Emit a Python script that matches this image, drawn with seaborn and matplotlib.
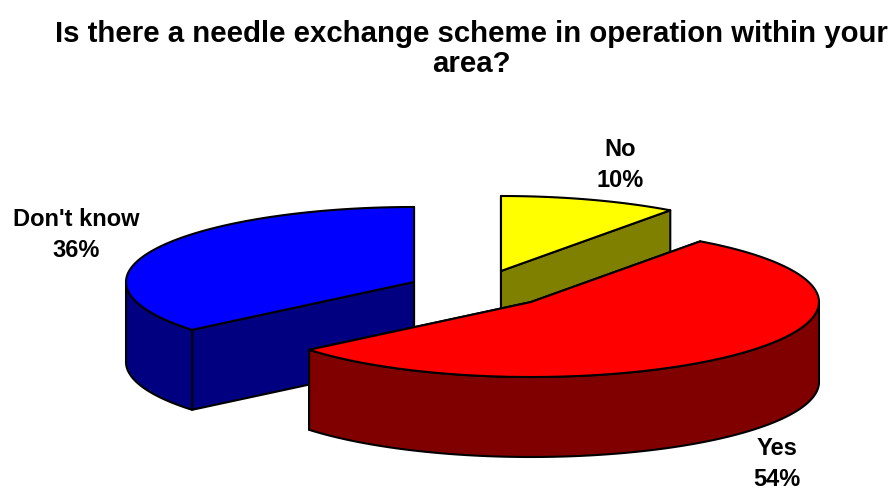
import numpy as np
import matplotlib
matplotlib.use("Agg")
import matplotlib.pyplot as plt
from matplotlib.patches import Polygon
import seaborn as sns

title = "Is there a needle exchange scheme in operation within your\narea?"
categories = ["No", "Yes", "Don't know"]
values = [10, 54, 36]

sns.set_style("white")
plt.rcParams['font.family'] = ['Liberation Sans', 'DejaVu Sans']
top_colors = sns.color_palette(["#FFFF00", "#FF0000", "#0000FF"])
side_colors = sns.color_palette(["#808000", "#800000", "#000080"])

# layout (pixel space of the figure)
W, H = 893, 489
A, B, DEPTH = 288, 75, 80
centers = [(501, 272), (531, 303), (414, 283)]
label_pos = [(620, 165), (777, 464), (76, 235)]
draw_order = [0, 2, 1]

fig = plt.figure(figsize=(W / 100, H / 100), dpi=100)
ax = fig.add_axes([0, 0, 1, 1])
ax.set_xlim(0, W)
ax.set_ylim(H, 0)
ax.axis("off")

shares = np.array(values, dtype=float) / sum(values)
ends = 90 - 360 * np.cumsum(shares)
starts = ends + 360 * shares
EDGE = dict(edgecolor="black", linewidth=1.5, joinstyle="round")

for i in draw_order:
    cx, cy = centers[i]
    t = np.radians(np.linspace(starts[i], ends[i], 200))
    x = cx + A * np.cos(t)
    y = cy - B * np.sin(t)
    # radial faces
    for k in (0, -1):
        ax.add_patch(Polygon([(cx, cy), (x[k], y[k]), (x[k], y[k] + DEPTH), (cx, cy + DEPTH)],
                             facecolor=side_colors[i], **EDGE))
    # outer wall: front half of the rim only
    front = np.sin(t) <= 0
    if front.any():
        xf, yf = x[front], y[front]
        wall = np.r_[np.c_[xf, yf], np.c_[xf, yf + DEPTH][::-1]]
        ax.add_patch(Polygon(wall, facecolor=side_colors[i], **EDGE))
    # top
    ax.add_patch(Polygon(np.r_[[(cx, cy)], np.c_[x, y]], facecolor=top_colors[i], **EDGE))

for name, v, (lx, ly) in zip(categories, values, label_pos):
    ax.text(lx, ly, f"{name}\n{v}%", ha="center", va="center", fontsize=17,
            fontweight="bold", linespacing=1.4, color="black")

ax.text(471, 49, title, ha="center", va="center", fontsize=21.2, fontweight="bold",
        linespacing=1.13, color="black")

fig.savefig("out.png", dpi=100)
